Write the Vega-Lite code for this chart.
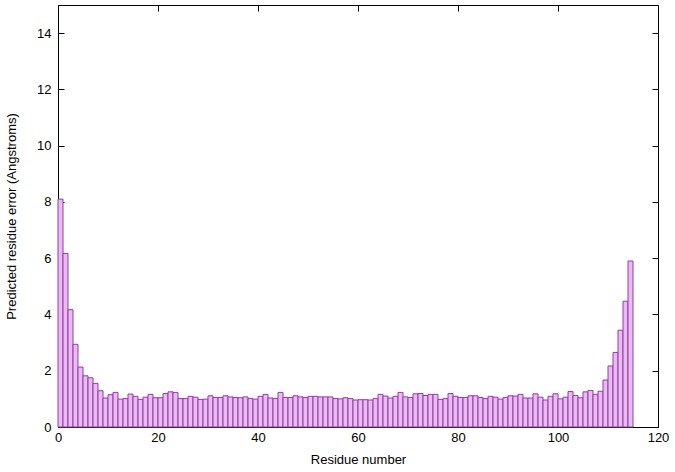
{
  "$schema": "https://vega.github.io/schema/vega-lite/v6.json",
  "width": 600,
  "height": 422,
  "autosize": {"type": "none"},
  "padding": {"left": 58, "top": 5, "right": 17, "bottom": 45},
  "config": {
    "view": {"stroke": "#000", "strokeWidth": 1},
    "font": "Liberation Sans",
    "axis": {"grid": false, "domain": false, "tickColor": "#000", "labelColor": "#000", "titleColor": "#000", "labelFontSize": 13, "titleFontSize": 13, "titleFontWeight": "normal", "tickSize": -6, "labelPadding": 10, "labelFlush": false}
  },
  "data": {"values": [
    {"r":0,"e":8.10},{"r":1,"e":6.17},{"r":2,"e":4.17},{"r":3,"e":2.94},{"r":4,"e":2.13},{"r":5,"e":1.82},{"r":6,"e":1.75},{"r":7,"e":1.55},{"r":8,"e":1.29},{"r":9,"e":1.03},
    {"r":10,"e":1.15},{"r":11,"e":1.23},{"r":12,"e":0.99},{"r":13,"e":1.01},{"r":14,"e":1.17},{"r":15,"e":1.09},{"r":16,"e":0.98},{"r":17,"e":1.06},{"r":18,"e":1.16},{"r":19,"e":1.04},
    {"r":20,"e":1.04},{"r":21,"e":1.19},{"r":22,"e":1.25},{"r":23,"e":1.23},{"r":24,"e":1.01},{"r":25,"e":1.01},{"r":26,"e":1.09},{"r":27,"e":1.06},{"r":28,"e":0.98},{"r":29,"e":0.99},
    {"r":30,"e":1.11},{"r":31,"e":1.05},{"r":32,"e":1.05},{"r":33,"e":1.11},{"r":34,"e":1.07},{"r":35,"e":1.05},{"r":36,"e":1.04},{"r":37,"e":1.07},{"r":38,"e":1.01},{"r":39,"e":0.99},
    {"r":40,"e":1.09},{"r":41,"e":1.16},{"r":42,"e":1.03},{"r":43,"e":1.01},{"r":44,"e":1.23},{"r":45,"e":1.05},{"r":46,"e":1.05},{"r":47,"e":1.11},{"r":48,"e":1.07},{"r":49,"e":1.05},
    {"r":50,"e":1.09},{"r":51,"e":1.09},{"r":52,"e":1.07},{"r":53,"e":1.07},{"r":54,"e":1.07},{"r":55,"e":1.01},{"r":56,"e":1.00},{"r":57,"e":1.04},{"r":58,"e":1.01},{"r":59,"e":0.96},
    {"r":60,"e":0.97},{"r":61,"e":0.97},{"r":62,"e":0.96},{"r":63,"e":1.01},{"r":64,"e":1.16},{"r":65,"e":1.10},{"r":66,"e":1.03},{"r":67,"e":1.09},{"r":68,"e":1.23},{"r":69,"e":1.07},
    {"r":70,"e":1.05},{"r":71,"e":1.18},{"r":72,"e":1.19},{"r":73,"e":1.12},{"r":74,"e":1.16},{"r":75,"e":1.16},{"r":76,"e":0.98},{"r":77,"e":1.01},{"r":78,"e":1.19},{"r":79,"e":1.09},
    {"r":80,"e":1.05},{"r":81,"e":1.05},{"r":82,"e":1.11},{"r":83,"e":1.11},{"r":84,"e":1.05},{"r":85,"e":1.01},{"r":86,"e":1.09},{"r":87,"e":1.06},{"r":88,"e":0.99},{"r":89,"e":1.05},
    {"r":90,"e":1.11},{"r":91,"e":1.10},{"r":92,"e":1.16},{"r":93,"e":1.03},{"r":94,"e":1.03},{"r":95,"e":1.18},{"r":96,"e":1.06},{"r":97,"e":0.96},{"r":98,"e":1.09},{"r":99,"e":1.18},
    {"r":100,"e":1.00},{"r":101,"e":1.06},{"r":102,"e":1.26},{"r":103,"e":1.12},{"r":104,"e":1.04},{"r":105,"e":1.25},{"r":106,"e":1.30},{"r":107,"e":1.16},{"r":108,"e":1.27},{"r":109,"e":1.67},
    {"r":110,"e":2.17},{"r":111,"e":2.65},{"r":112,"e":3.44},{"r":113,"e":4.47},{"r":114,"e":5.90}
  ]},
  "transform": [{"calculate": "datum.r + 1", "as": "r2"}],
  "layer": [
    {
      "mark": {"type": "bar", "fill": "#ecb9f7", "stroke": "#8f419c", "strokeWidth": 1},
      "encoding": {
        "x": {"field": "r", "type": "quantitative", "scale": {"domain": [0, 120], "nice": false, "zero": false},
              "axis": {"values": [0,20,40,60,80,100,120], "title": "Residue number", "titlePadding": 9}},
        "x2": {"field": "r2"},
        "y": {"field": "e", "type": "quantitative", "scale": {"domain": [0, 15], "nice": false},
              "axis": {"values": [0,2,4,6,8,10,12,14], "title": "Predicted residue error (Angstroms)", "titlePadding": 18, "labelPadding": 13}},
        "y2": {"datum": 0}
      }
    },
    {
      "mark": {"type": "point", "opacity": 0},
      "encoding": {
        "x": {"field": "r", "type": "quantitative", "scale": {"domain": [0, 120], "nice": false, "zero": false},
              "axis": {"orient": "top", "values": [0,20,40,60,80,100,120], "labels": false, "title": null}},
        "y": {"field": "e", "type": "quantitative", "scale": {"domain": [0, 15], "nice": false},
              "axis": {"orient": "right", "values": [0,2,4,6,8,10,12,14], "labels": false, "title": null}}
      }
    }
  ],
  "resolve": {"axis": {"x": "independent", "y": "independent"}}
}
